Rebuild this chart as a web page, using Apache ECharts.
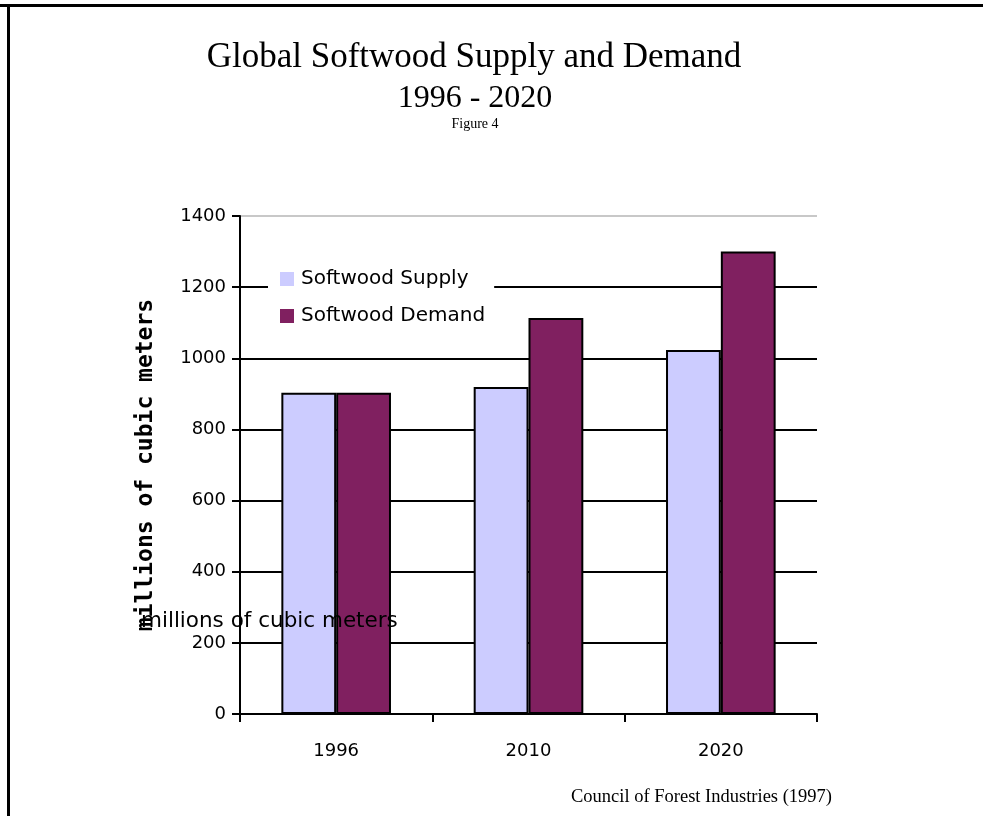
<!DOCTYPE html>
<html>
<head>
<meta charset="utf-8">
<script src="https://cdn.jsdelivr.net/npm/echarts@6/dist/echarts.min.js"></script>
<style>
  html, body { margin: 0; padding: 0; background: #fff; }
  #chart { width: 983px; height: 816px; }
</style>
</head>
<body>
<div id="chart"></div>
<script>
// Years on the category axis
const years = ['1996', '2010', '2020'];
// Millions of cubic meters
const supply = [903, 919, 1023];
const demand = [903, 1113, 1300];
const seriesNames = ['Softwood Supply', 'Softwood Demand'];
const unitLabel = 'millions of cubic meters';

const chart = echarts.init(document.getElementById('chart'));

const sans = 'DejaVu Sans';
const serif = 'Liberation Serif';

chart.setOption({
  backgroundColor: '#fff',
  animation: false,
  title: [
    { text: 'Global Softwood Supply and Demand', left: 474, top: 40, textAlign: 'center', padding: 0,
      textStyle: { fontFamily: serif, fontWeight: 'normal', fontSize: 35, color: '#000' } },
    { text: '1996 - 2020', left: 475, top: 83, textAlign: 'center', padding: 0,
      textStyle: { fontFamily: serif, fontWeight: 'normal', fontSize: 32, color: '#000' } },
    { text: 'Figure 4', left: 475, top: 117, textAlign: 'center', padding: 0,
      textStyle: { fontFamily: serif, fontWeight: 'normal', fontSize: 14, color: '#000' } },
    { text: 'Council of Forest Industries (1997)', right: 151, top: 788, padding: 0,
      textStyle: { fontFamily: serif, fontWeight: 'normal', fontSize: 18.5, color: '#000' } }
  ],
  legend: {
    data: seriesNames,
    orient: 'vertical',
    left: 268, top: 263,
    backgroundColor: '#fff',
    padding: [6, 9, 6, 12],
    itemGap: 17,
    itemWidth: 14, itemHeight: 14,
    icon: 'rect',
    itemStyle: { borderWidth: 0 },
    textStyle: { fontFamily: sans, fontSize: 20, color: '#000', padding: [0, 0, 0, 2] }
  },
  grid: { left: 240, right: 166, top: 216, bottom: 102, containLabel: false },
  xAxis: {
    type: 'category',
    data: years,
    axisLine: { lineStyle: { color: '#000', width: 2 } },
    axisTick: { show: true, length: 8, alignWithLabel: false, lineStyle: { color: '#000', width: 2 } },
    axisLabel: { fontFamily: sans, fontSize: 18, color: '#000', margin: 28 }
  },
  yAxis: {
    type: 'value',
    min: 0, max: 1400, interval: 200,
    name: unitLabel,
    nameLocation: 'middle',
    nameGap: 82,
    nameRotate: 90,
    nameTextStyle: { fontFamily: 'DejaVu Sans Mono', fontWeight: 'bold', fontSize: 23, color: '#000' },
    axisLine: { show: true, lineStyle: { color: '#000', width: 2 } },
    axisTick: { show: true, length: 8, lineStyle: { color: '#000', width: 2 } },
    axisLabel: { fontFamily: sans, fontSize: 18, color: '#000', margin: 14,
      formatter: function (v) { return String(v); } },
    splitLine: {
      show: true,
      lineStyle: { color: ['#000', '#000', '#000', '#000', '#000', '#000', '#000', '#c8c8c8'], width: 2 }
    }
  },
  series: [
    { name: seriesNames[0], type: 'bar', data: supply, barGap: '0%', barCategoryGap: '43%',
      itemStyle: { color: '#ccccff', borderColor: '#000', borderWidth: 2 } },
    { name: seriesNames[1], type: 'bar', data: demand, barGap: '0%', barCategoryGap: '43%',
      itemStyle: { color: '#802060', borderColor: '#000', borderWidth: 2 } }
  ],
  graphic: [
    // page frame (top and left edges)
    { type: 'rect', shape: { x: 0, y: 4, width: 983, height: 3 }, style: { fill: '#000' }, z: 100 },
    { type: 'rect', shape: { x: 7, y: 4, width: 3, height: 812 }, style: { fill: '#000' }, z: 100 },
    // horizontal unit label drawn over the plot
    { type: 'text', left: 141, top: 610, z: 100,
      style: { text: unitLabel, fontFamily: sans, fontSize: 21.5, fill: '#000' } }
  ]
});
</script>
</body>
</html>
